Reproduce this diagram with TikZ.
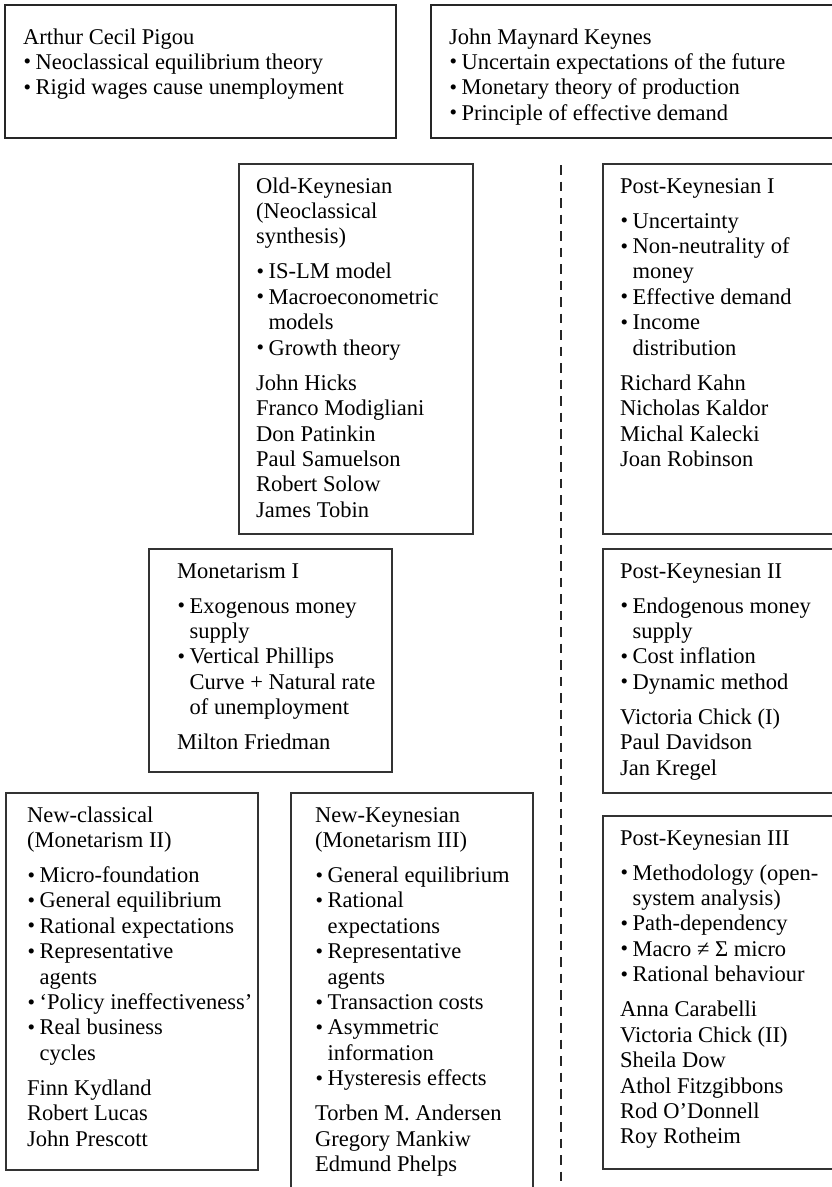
\documentclass[tikz,border=0pt]{standalone}
\usepackage{fontspec}
\setmainfont{Liberation Serif}
\newcommand{\mybul}{\makebox[12.5pt][l]{\hspace*{0.5pt}\raisebox{0.02em}{\scalebox{0.95}{\textbullet}}}}
\newcommand{\myind}{\hspace*{12.5pt}}
\newcommand{\gp}{\\[9.7pt]}
\tikzset{
  frame/.style={draw=black!80, line width=1.2pt},
  topframe/.style={draw=black!85, line width=1.6pt},
  txt/.style={anchor=base west, inner sep=0pt, font=\fontsize{22.5}{25.4}\selectfont, text=black},
  divider/.style={draw=black!85, line width=1.1pt, dash pattern=on 9.5pt off 7pt},
}
\begin{document}
\begin{tikzpicture}[x=1pt,y=-1pt]
\useasboundingbox (0,0) rectangle (832,1187);
\clip (0,0) rectangle (832,1187);
% boxes
\draw[topframe] (5,5) rectangle (396,138);
\draw[topframe] (431,5) rectangle (845,138);
\draw[frame] (239,164) rectangle (473,534);
\draw[frame] (603,164) rectangle (845,534);
\draw[frame] (149,549) rectangle (392,772);
\draw[frame] (603,549) rectangle (845,793);
\draw[frame] (603,816) rectangle (845,1169);
\draw[frame] (6,793) rectangle (258,1170);
\draw[frame] (291,793) rectangle (533,1200);
% divider
\coordinate (divtop) at (561,165);
\coordinate (divbot) at (561,1190);
\draw[divider] (divtop) -- (divbot);
% texts
\node[txt] (tpigou) at (23,44) {\begin{tabular}[t]{@{}l@{}}
Arthur Cecil Pigou\\
\mybul Neoclassical equilibrium theory\\
\mybul Rigid wages cause unemployment
\end{tabular}};
\node[txt] (tkeynes) at (449,44) {\begin{tabular}[t]{@{}l@{}}
John Maynard Keynes\\
\mybul Uncertain expectations of the future\\
\mybul Monetary theory of production\\
\mybul Principle of effective demand
\end{tabular}};
\node[txt] (toldk) at (256,193) {\begin{tabular}[t]{@{}l@{}}
Old-Keynesian\\
(Neoclassical\\
synthesis)\gp
\mybul IS-LM model\\
\mybul Macroeconometric\\
\myind models\\
\mybul Growth theory\gp
John Hicks\\
Franco Modigliani\\
Don Patinkin\\
Paul Samuelson\\
Robert Solow\\
James Tobin
\end{tabular}};
\node[txt] (tpk1) at (620,193) {\begin{tabular}[t]{@{}l@{}}
Post-Keynesian I\gp
\mybul Uncertainty\\
\mybul Non-neutrality of\\
\myind money\\
\mybul Effective demand\\
\mybul Income\\
\myind distribution\gp
Richard Kahn\\
Nicholas Kaldor\\
Michal Kalecki\\
Joan Robinson
\end{tabular}};
\node[txt] (tmon1) at (177,578) {\begin{tabular}[t]{@{}l@{}}
Monetarism I\gp
\mybul Exogenous money\\
\myind supply\\
\mybul Vertical Phillips\\
\myind Curve + Natural rate\\
\myind of unemployment\gp
Milton Friedman
\end{tabular}};
\node[txt] (tpk2) at (620,578) {\begin{tabular}[t]{@{}l@{}}
Post-Keynesian II\gp
\mybul Endogenous money\\
\myind supply\\
\mybul Cost inflation\\
\mybul Dynamic method\gp
Victoria Chick (I)\\
Paul Davidson\\
Jan Kregel
\end{tabular}};
\node[txt] (tpk3) at (620,845) {\begin{tabular}[t]{@{}l@{}}
Post-Keynesian III\gp
\mybul Methodology (open-\\
\myind system analysis)\\
\mybul Path-dependency\\
\mybul Macro ≠ Σ micro\\
\mybul Rational behaviour\gp
Anna Carabelli\\
Victoria Chick (II)\\
Sheila Dow\\
Athol Fitzgibbons\\
Rod O’Donnell\\
Roy Rotheim
\end{tabular}};
\node[txt] (tnc) at (27,822) {\begin{tabular}[t]{@{}l@{}}
New-classical\\
(Monetarism II)\gp
\mybul Micro-foundation\\
\mybul General equilibrium\\
\mybul Rational expectations\\
\mybul Representative\\
\myind agents\\
\mybul ‘Policy ineffectiveness’\\
\mybul Real business\\
\myind cycles\gp
Finn Kydland\\
Robert Lucas\\
John Prescott
\end{tabular}};
\node[txt] (tnk) at (315,822) {\begin{tabular}[t]{@{}l@{}}
New-Keynesian\\
(Monetarism III)\gp
\mybul General equilibrium\\
\mybul Rational\\
\myind expectations\\
\mybul Representative\\
\myind agents\\
\mybul Transaction costs\\
\mybul Asymmetric\\
\myind information\\
\mybul Hysteresis effects\gp
Torben M. Andersen\\
Gregory Mankiw\\
Edmund Phelps
\end{tabular}};
\end{tikzpicture}
\end{document}
